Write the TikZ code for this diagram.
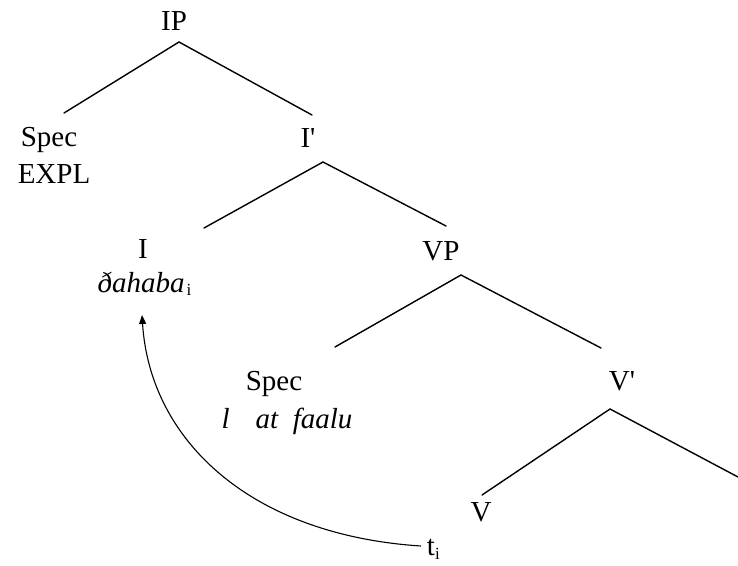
\documentclass[tikz,border=0pt]{standalone}
\usepackage{fontspec}
\setmainfont{Liberation Serif}
\usetikzlibrary{arrows.meta}
\begin{document}
\begin{tikzpicture}[x=1pt,y=-1pt,
  lbl/.style={anchor=base,inner sep=0pt,font=\fontsize{29}{32}\selectfont},
  edge/.style={draw,line width=1.4pt,line cap=round},
  mv/.style={draw,line width=1.1pt,-{Triangle[length=9pt,width=7pt]}}]
\useasboundingbox (0,0) rectangle (738,565);
% nodes
\node[lbl] (IP) at (174,30) {IP};
\node[lbl] (spec1) at (49,146) {Spec};
\node[lbl] (expl) at (54,183) {EXPL};
\node[lbl] (Ibar) at (308,147) {I\textquotesingle};
\node[lbl] (I) at (143,258) {I};
\node[lbl] (dahaba) at (142,292) {\textit{ðahaba}\hspace{2pt}\makebox[0pt][l]{\fontsize{17}{18}\selectfont\raisebox{-3pt}{i}}};
\node[lbl] (VP) at (441,260) {VP};
\node[lbl] (spec2) at (274,390) {Spec};
\node[lbl] (atfaalu) at (287,428) {\textit{l\hspace{0.9em}at\hspace{0.5em}faalu}};
\node[lbl] (Vbar) at (622,390) {V\textquotesingle};
\node[lbl] (V) at (481,521) {V};
\node[lbl] (t) at (431,555) {t\makebox[0pt][l]{\fontsize{17}{18}\selectfont\raisebox{-4pt}{i}}};
% junction points
\coordinate (IPa) at (179,42);
\coordinate (IPl) at (64,113);
\coordinate (IPr) at (312,115);
\coordinate (Ia) at (323,162);
\coordinate (Il) at (204,228);
\coordinate (Ir) at (446,226);
\coordinate (VPa) at (461,275);
\coordinate (VPl) at (335,347);
\coordinate (VPr) at (601,348);
\coordinate (Va) at (610,409);
\coordinate (Vl) at (482,495);
\coordinate (Vr) at (738,477);
\coordinate (tw) at (421,546);
\coordinate (dtip) at (142,315);
% edges
\draw[edge] (IPl) -- (IPa) -- (IPr);
\draw[edge] (Il) -- (Ia) -- (Ir);
\draw[edge] (VPl) -- (VPa) -- (VPr);
\draw[edge] (Vl) -- (Va) -- (Vr);
\draw[mv] (tw) .. controls (250,535) and (150,440) .. (dtip);
\end{tikzpicture}
\end{document}
